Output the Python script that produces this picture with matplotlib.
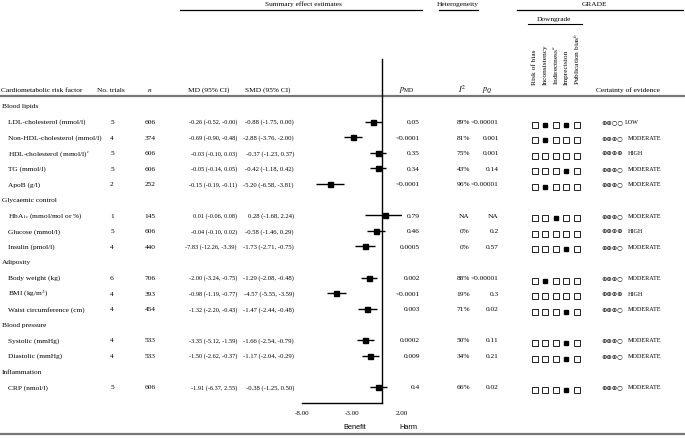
import matplotlib.pyplot as plt
import numpy as np

plt.rcParams['font.family'] = ['Liberation Serif', 'DejaVu Serif']
plt.rcParams['mathtext.fontset'] = 'stix'

# data
groups = ['Blood lipids', 'Glycaemic control', 'Adiposity', 'Blood pressure', 'Inflammation']
group_sizes = [5, 3, 3, 2, 1]
factors = ['LDL-cholesterol (mmol/l)', 'Non-HDL-cholesterol (mmol/l)', 'HDL-cholesterol (mmol/l)$^c$',
           'TG (mmol/l)', 'ApoB (g/l)', 'HbA$_{1c}$ (mmol/mol or %)', 'Glucose (mmol/l)',
           'Insulin (pmol/l)', 'Body weight (kg)', 'BMI (kg/m$^2$)', 'Waist circumference (cm)',
           'Systolic (mmHg)', 'Diastolic (mmHg)', 'CRP (nmol/l)']
trials = [5, 4, 5, 5, 2, 1, 5, 4, 6, 4, 4, 4, 4, 5]
n_part = [606, 374, 606, 606, 252, 145, 606, 440, 706, 393, 454, 533, 533, 606]
md = [-0.26, -0.69, -0.03, -0.05, -0.15, 0.01, -0.04, -7.83, -2.00, -0.98, -1.32, -3.35, -1.50, -1.91]
md_lo = [-0.52, -0.90, -0.10, -0.14, -0.19, -0.06, -0.10, -12.26, -3.24, -1.19, -2.20, -5.12, -2.62, -6.37]
md_hi = [-0.0, -0.48, 0.03, 0.05, -0.11, 0.08, 0.02, -3.39, -0.75, -0.77, -0.43, -1.59, -0.37, 2.55]
smd = [-0.88, -2.88, -0.37, -0.42, -5.20, 0.28, -0.58, -1.73, -1.29, -4.57, -1.47, -1.66, -1.17, -0.38]
smd_lo = [-1.75, -3.76, -1.23, -1.18, -6.58, -1.68, -1.46, -2.71, -2.08, -5.55, -2.44, -2.54, -2.04, -1.25]
smd_hi = [0.00, -2.00, 0.37, 0.42, -3.81, 2.24, 0.29, -0.75, -0.48, -3.59, -0.48, -0.79, -0.29, 0.50]
p_md = ['0.05', '<0.0001', '0.35', '0.34', '<0.0001', '0.79', '0.46', '0.0005', '0.002', '<0.0001',
        '0.003', '0.0002', '0.009', '0.4']
i2 = ['89%', '81%', '75%', '43%', '96%', 'NA', '0%', '0%', '88%', '19%', '71%', '50%', '34%', '66%']
p_q = ['<0.00001', '0.001', '0.001', '0.14', '<0.00001', 'NA', '0.2', '0.57', '<0.00001', '0.3',
       '0.02', '0.11', '0.21', '0.02']
downgrade_labels = ['Risk of bias', 'Inconsistency', 'Indirectness$^a$', 'Imprecision', 'Publication bias$^b$']
downgrade = [[0, 1, 0, 1, 0], [0, 1, 0, 0, 0], [0, 0, 0, 0, 0], [0, 0, 0, 1, 0], [0, 1, 0, 0, 0],
             [0, 0, 1, 0, 0], [0, 0, 0, 0, 0], [0, 0, 0, 1, 0], [0, 1, 0, 0, 0], [0, 0, 0, 0, 0],
             [0, 0, 0, 1, 0], [0, 0, 0, 1, 0], [0, 0, 0, 1, 0], [0, 0, 0, 1, 0]]
certainty = ['LOW', 'MODERATE', 'HIGH', 'MODERATE', 'MODERATE', 'MODERATE', 'HIGH', 'MODERATE',
             'MODERATE', 'HIGH', 'MODERATE', 'MODERATE', 'MODERATE', 'MODERATE']
xticks = [-8, -3, 2]

W, H = 685, 439
fig = plt.figure(figsize=(W / 100, H / 100), dpi=100)
tab = fig.add_axes([0, 0, 1, 1])
tab.set_xlim(0, W)
tab.set_ylim(H, 0)
tab.axis('off')

fs = 5.3
fs_md = 4.5
fs_smd = 4.8
y0, dy = 107, 15.6

def row_y(r):
    return y0 + dy * r

# row index of each group header and item
item_rows = []
group_rows = []
r = 0
for g, s in zip(groups, group_sizes):
    group_rows.append(r)
    r += 1
    for k in range(s):
        item_rows.append(r)
        r += 1

# header
tab.text(303, 4.5, 'Summary effect estimates', ha='center', va='center', fontsize=fs)
tab.text(458, 4.5, 'Heterogeneity', ha='center', va='center', fontsize=fs)
tab.text(595, 4.5, 'GRADE', ha='center', va='center', fontsize=fs)
tab.text(554, 20, 'Downgrade', ha='center', va='center', fontsize=fs)
tab.plot([180, 422], [11, 11], color='black', lw=0.9)
tab.plot([439, 478], [11, 11], color='black', lw=0.9)
tab.plot([517, 683], [11, 11], color='black', lw=0.9)
tab.plot([528, 582], [25, 25], color='black', lw=0.8)

hy = 90
tab.text(1, hy, 'Cardiometabolic risk factor', ha='left', va='center', fontsize=fs)
tab.text(111, hy, 'No. trials', ha='center', va='center', fontsize=fs)
tab.text(150, hy, '$n$', ha='center', va='center', fontsize=fs)
tab.text(209, hy, 'MD (95% CI)', ha='center', va='center', fontsize=fs)
tab.text(268, hy, 'SMD (95% CI)', ha='center', va='center', fontsize=fs)
tab.text(407, hy, r'$p_{\mathrm{MD}}$', ha='center', va='center', fontsize=fs + 0.5)
tab.text(462, hy - 1, '$I^2$', ha='center', va='center', fontsize=fs + 0.5)
tab.text(487, hy, '$p_Q$', ha='center', va='center', fontsize=fs + 0.5)
tab.text(628, hy, 'Certainty of evidence', ha='center', va='center', fontsize=fs)

col_x = [535, 545.5, 556, 566.5, 577]
for x, lab in zip(col_x, downgrade_labels):
    tab.text(x, 85, lab, rotation=90, ha='center', va='bottom', fontsize=fs)

tab.plot([0, W], [97, 97], color='#777777', lw=1.6)
tab.plot([0, W], [435, 435], color='#777777', lw=1.6)

# table body
for g, rr in zip(groups, group_rows):
    tab.text(2, row_y(rr), g, ha='left', va='center', fontsize=fs)

for i, rr in enumerate(item_rows):
    y = row_y(rr)
    tab.text(8, y, factors[i], ha='left', va='center', fontsize=fs)
    tab.text(112, y, str(trials[i]), ha='center', va='center', fontsize=fs)
    tab.text(150, y, str(n_part[i]), ha='center', va='center', fontsize=fs)
    tab.text(237, y, f'{md[i]:.2f} ({md_lo[i]:.2f}, {md_hi[i]:.2f})', ha='right', va='center', fontsize=fs_md)
    tab.text(294, y, f'{smd[i]:.2f} ({smd_lo[i]:.2f}, {smd_hi[i]:.2f})', ha='right', va='center', fontsize=fs_smd)
    tab.text(420, y, p_md[i], ha='right', va='center', fontsize=fs)
    tab.text(470, y, i2[i], ha='right', va='center', fontsize=fs)
    tab.text(499, y, p_q[i], ha='right', va='center', fontsize=fs)
    for x, d in zip(col_x, downgrade[i]):
        if d:
            tab.plot(x, y + 3, 's', ms=2.2, color='black')
        else:
            tab.plot(x, y + 3, 's', ms=3.8, mfc='white', mec='black', mew=0.6)
    nplus = {'HIGH': 4, 'MODERATE': 3, 'LOW': 2}[certainty[i]]
    sym = '\u2295' * nplus + '\u25cb' * (4 - nplus)
    tab.text(601, y, sym, ha='left', va='center', fontsize=4.6, family='DejaVu Sans')
    tab.text(625 if certainty[i] == 'LOW' else 628, y, certainty[i], ha='left', va='center', fontsize=4.4)

# forest plot of SMD
px_left, px_right = 302, 402
py_top, py_bot = 60, 404
fx = fig.add_axes([px_left / W, 1 - py_bot / H, (px_right - px_left) / W, (py_bot - py_top) / H])
fx.set_xlim(-8, 2)
fx.set_ylim((py_bot - y0) / dy, (py_top - y0) / dy)
fx.patch.set_visible(False)
rows = np.array(item_rows)
fx.hlines(rows, smd_lo, smd_hi, color='black', lw=1.0)
fx.plot(smd, rows, 's', color='black', ms=3.6)
fx.spines['top'].set_visible(False)
fx.spines['right'].set_visible(False)
fx.spines['left'].set_position(('data', 0))
fx.spines['bottom'].set_bounds(-8, 0)
fx.spines['left'].set_linewidth(1.0)
fx.spines['bottom'].set_linewidth(1.0)
fx.set_yticks([])
fx.set_xticks(xticks)
fx.set_xticklabels([f'{t:.2f}' for t in xticks])
fx.tick_params(axis='x', length=0, labelsize=fs - 0.3, pad=5)
fx.text(-2.7, (428 - y0) / dy, 'Benefit', ha='center', va='center', fontsize=fs,
        family='Liberation Sans', clip_on=False)
fx.text(2.6, (428 - y0) / dy, 'Harm', ha='center', va='center', fontsize=fs,
        family='Liberation Sans', clip_on=False)

fig.savefig('out.png', dpi=100)
